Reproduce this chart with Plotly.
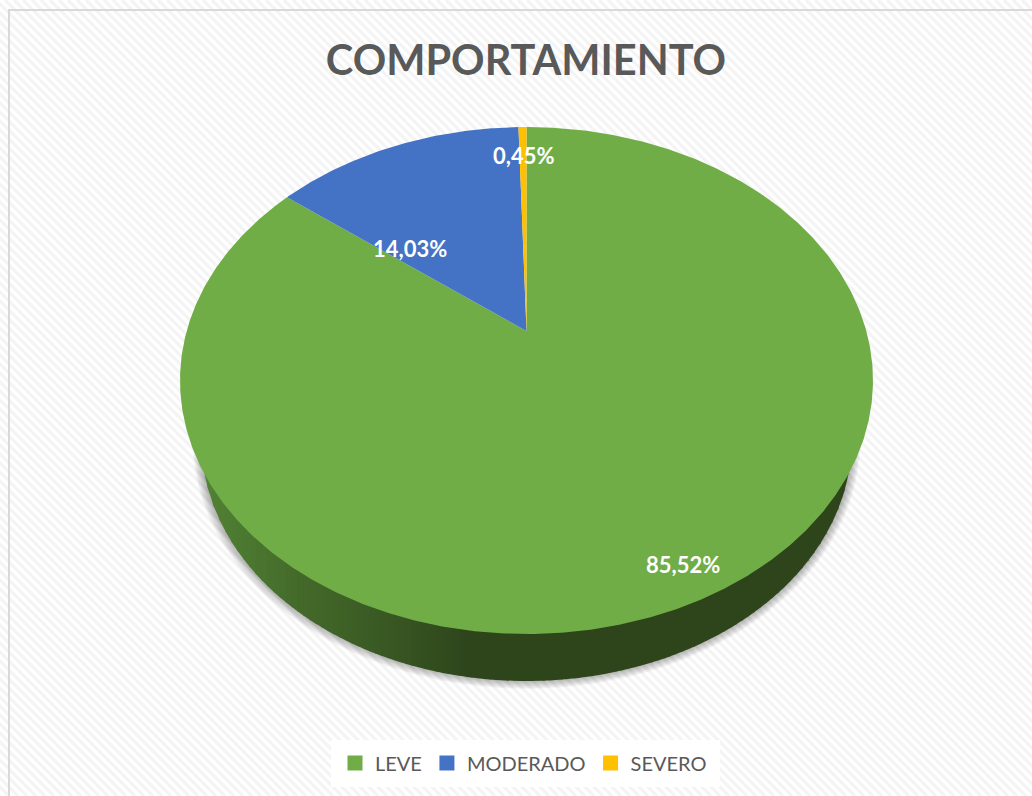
import numpy as np
import plotly.graph_objects as go

# ---- data ----
categories = ["LEVE", "MODERADO", "SEVERO"]
values = [85.52, 14.03, 0.45]
colors = ["#70AD47", "#4472C4", "#FFC000"]
title_text = "COMPORTAMIENTO"

# ---- label placement: radius fraction and angle shift from each slice's middle ----
label_radius = [0.90, 0.511, 0.828]
label_shift_deg = [0.5, -18.8, 0.3]

# ---- perspective disc geometry (pixel-scaled axes) ----
W, H = 1032, 796
APEX_X, APEX_Y = 526.5, 331.0
BACK, FRONT = 204.0, 303.0
K = (FRONT - BACK) / (FRONT + BACK)
RY = BACK * (1 + K)
RX = 346.5 * np.sqrt(1 - K * K)
WALL_C, WALL_RX, WALL_RY = 441.0, 325.0, 240.0


def project(theta, r=1.0):
    """Angle clockwise from 12 o'clock on the disc -> axis coordinates."""
    u, v = r * np.sin(theta), r * np.cos(theta)
    d = 1 + K * v
    return APEX_X + RX * u / d, APEX_Y - RY * v / d


fig = go.Figure()


def blob(xs, ys, color):
    fig.add_trace(go.Scatter(x=xs, y=ys, mode="lines", fill="toself", fillcolor=color,
                             line=dict(width=0), hoverinfo="skip", showlegend=False))


# soft shadow under the wall
t = np.linspace(-np.pi / 2, np.pi / 2, 200)
for i in range(1, 10):
    blob(APEX_X + (WALL_RX + i) * np.sin(t), WALL_C + (WALL_RY + i - 1) * np.cos(t),
         "rgba(0,0,0,0.035)")

# side wall, shaded left to right
stops_x = [195, 230, 300, 380, 470, 900]
stops_rgb = np.array([[84, 134, 56], [78, 124, 50], [68, 106, 42], [58, 90, 36], [46, 69, 28], [46, 69, 28]])
edges = np.arange(APEX_X - WALL_RX, APEX_X + WALL_RX + 6, 6.0)
for a, b in zip(edges[:-1], edges[1:]):
    b2 = min(b + 1.0, APEX_X + WALL_RX)
    a2 = max(a, APEX_X - WALL_RX)
    xs = np.linspace(a2, b2, 5)
    ys = WALL_C + WALL_RY * np.sqrt(np.clip(1 - ((xs - APEX_X) / WALL_RX) ** 2, 0, 1))
    mid = (a + b) / 2
    rgb = [int(np.interp(mid, stops_x, stops_rgb[:, c])) for c in range(3)]
    blob(np.r_[xs, xs[::-1]], np.r_[ys, np.full(5, WALL_C)], f"rgb({rgb[0]},{rgb[1]},{rgb[2]})")

# top face slices, clockwise from 12 o'clock
total = sum(values)
start = 0.0
mids = []
for val, col in zip(values, colors):
    sweep = val / total * 2 * np.pi
    th = np.linspace(start, start + sweep, max(3, int(val * 8)))
    px, py = project(th)
    blob(np.r_[APEX_X, px, APEX_X], np.r_[APEX_Y, py, APEX_Y], col)
    mids.append(start + sweep / 2)
    start += sweep

# legend entries
for cat, col in zip(categories, colors):
    fig.add_trace(go.Scatter(x=[None], y=[None], mode="markers", name=cat,
                             marker=dict(symbol="square", size=15, color=col)))

annotations = []
for val, m, r, sh in zip(values, mids, label_radius, label_shift_deg):
    lx, ly = project(m + np.radians(sh), r)
    annotations.append(dict(x=float(lx), y=float(ly), xref="x", yref="y", showarrow=False,
                            yshift=1.5, xshift=-0.5,
                            text=f"{val:.2f}%".replace(".", ","),
                            font=dict(family="Lato", size=22, color="white", weight="bold")))

# striped backdrop path
hatch = " ".join(f"M{x},0 L{x + H},{H}" for x in range(-H, W + 9, 9))
shapes = [
    dict(type="path", path=hatch, xref="x", yref="y", layer="below",
         line=dict(color="#f4f4f4", width=3.2)),
    dict(type="rect", x0=331, x1=720, y0=740, y1=787, xref="x", yref="y", layer="below",
         fillcolor="rgba(255,255,255,0.95)", line=dict(width=0)),
    dict(type="path", path=f"M9,{H + 5} L9,10 L{W + 5},10", xref="x", yref="y", layer="below",
         line=dict(color="#d9d9d9", width=2)),
]

fig.update_layout(
    width=W, height=H, autosize=False,
    margin=dict(l=0, r=0, t=0, b=0),
    paper_bgcolor="white", plot_bgcolor="white",
    xaxis=dict(range=[0, W], visible=False, fixedrange=True),
    yaxis=dict(range=[H, 0], visible=False, fixedrange=True),
    title=dict(text=f"<b>{title_text}</b>", x=526 / W, xanchor="center", y=1 - 60 / H, yanchor="middle",
               font=dict(family="Lato", size=41.5, color="#595959")),
    legend=dict(orientation="h", x=335 / W, xanchor="left", y=1 - 763 / H, yanchor="middle",
                bgcolor="rgba(0,0,0,0)", font=dict(family="Lato", size=20, color="#595959"),
                itemwidth=30, tracegroupgap=0),
    shapes=shapes, annotations=annotations,
)

fig.write_html("out.html", config={"displayModeBar": False},
               post_script="document.body.style.margin='0';")
